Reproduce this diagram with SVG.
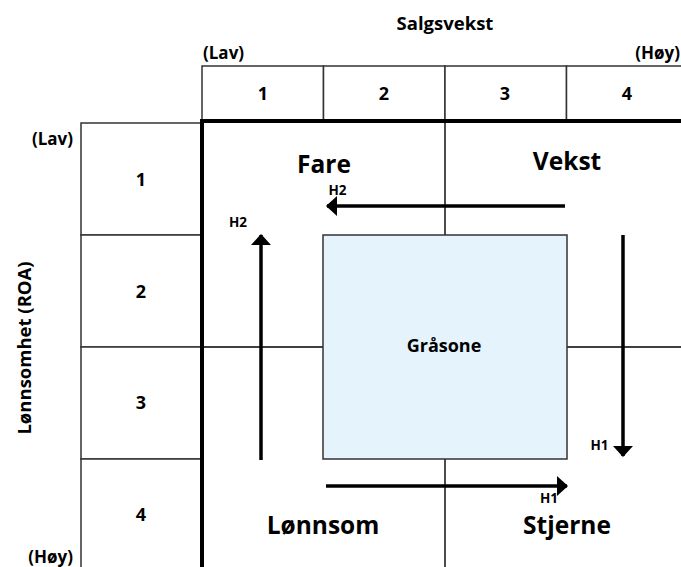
<svg xmlns="http://www.w3.org/2000/svg" width="681" height="567" viewBox="0 0 681 567">
  <style>
    text { font-family: "Open Sans", "Liberation Sans", sans-serif; font-weight: bold; fill: #000; }
    .axis { font-size: 18.5px; }
    .end { font-size: 17px; }
    .num { font-size: 18px; text-anchor: middle; }
    .quad { font-size: 24.5px; text-anchor: middle; }
    .tag { font-size: 13.5px; text-anchor: middle; }
    .cell { fill: #fff; stroke: #333; stroke-width: 1.5; }
    .thin { stroke: #000; stroke-width: 1.4; fill: none; }
    .thick { stroke: #000; stroke-width: 4; fill: none; }
    .arrow { stroke: #000; stroke-width: 3.5; fill: none; }
  </style>
  <defs>
    <marker id="head" viewBox="0 0 11 20" refX="10" refY="10" markerWidth="11" markerHeight="20" markerUnits="userSpaceOnUse" orient="auto">
      <path d="M0,0 L11,10 L0,20 Z" fill="#000"/>
    </marker>
  </defs>

  <rect width="681" height="567" fill="#fff"/>

  <!-- horizontal axis: sales growth -->
  <g id="x-axis">
    <text class="axis" x="445" y="29.5" text-anchor="middle">Salgsvekst</text>
    <text class="end" x="203" y="59">(Lav)</text>
    <text class="end" x="680" y="59" text-anchor="end">(Høy)</text>
    <rect class="cell" x="202" y="66" width="121.5" height="55"/>
    <rect class="cell" x="323.5" y="66" width="121.5" height="55"/>
    <rect class="cell" x="445" y="66" width="121.5" height="55"/>
    <rect class="cell" x="566.5" y="66" width="121.5" height="55"/>
    <text class="num" x="263" y="99.5">1</text>
    <text class="num" x="384" y="99.5">2</text>
    <text class="num" x="505" y="99.5">3</text>
    <text class="num" x="627" y="99.5">4</text>
  </g>

  <!-- vertical axis: profitability -->
  <g id="y-axis">
    <text class="end" x="73" y="145" text-anchor="end">(Lav)</text>
    <text class="end" x="73" y="563" text-anchor="end">(Høy)</text>
    <text class="axis" transform="translate(31,348) rotate(-90)" text-anchor="middle">Lønnsomhet (ROA)</text>
    <rect class="cell" x="81" y="123" width="120" height="112"/>
    <rect class="cell" x="81" y="235" width="120" height="112"/>
    <rect class="cell" x="81" y="347" width="120" height="112"/>
    <rect class="cell" x="81" y="459" width="120" height="112"/>
    <text class="num" x="141" y="185.5">1</text>
    <text class="num" x="141" y="297.5">2</text>
    <text class="num" x="141" y="409">3</text>
    <text class="num" x="141" y="521">4</text>
  </g>

  <!-- quadrant grid -->
  <g id="grid">
    <line class="thin" x1="445" y1="121" x2="445" y2="235"/>
    <line class="thin" x1="445" y1="459" x2="445" y2="567"/>
    <line class="thin" x1="202" y1="347" x2="323" y2="347"/>
    <line class="thin" x1="567" y1="347" x2="681" y2="347"/>
    <line class="thick" x1="200" y1="121" x2="681" y2="121"/>
    <line class="thick" x1="202" y1="119" x2="202" y2="567"/>
  </g>

  <g id="grasone">
    <rect x="323" y="235" width="244" height="224" fill="#E5F3FD" stroke="#333" stroke-width="1.5"/>
    <text x="444" y="352" font-size="18" text-anchor="middle">Gråsone</text>
  </g>

  <g id="fare"><text class="quad" x="324" y="173">Fare</text></g>
  <g id="vekst"><text class="quad" x="567" y="170">Vekst</text></g>
  <g id="lonnsom"><text class="quad" x="323" y="534">Lønnsom</text></g>
  <g id="stjerne"><text class="quad" x="567" y="534">Stjerne</text></g>

  <!-- movement arrows -->
  <g id="connectors">
    <line class="arrow" x1="565" y1="206" x2="327" y2="206" marker-end="url(#head)"/>
    <line class="arrow" x1="261" y1="460" x2="261" y2="235" marker-end="url(#head)"/>
    <line class="arrow" x1="623" y1="235" x2="623" y2="456" marker-end="url(#head)"/>
    <line class="arrow" x1="326" y1="486" x2="567" y2="486" marker-end="url(#head)"/>
    <text class="tag" x="337.5" y="195">H2</text>
    <text class="tag" x="238" y="227">H2</text>
    <text class="tag" x="599.5" y="449.5">H1</text>
    <text class="tag" x="549" y="503">H1</text>
  </g>
</svg>
